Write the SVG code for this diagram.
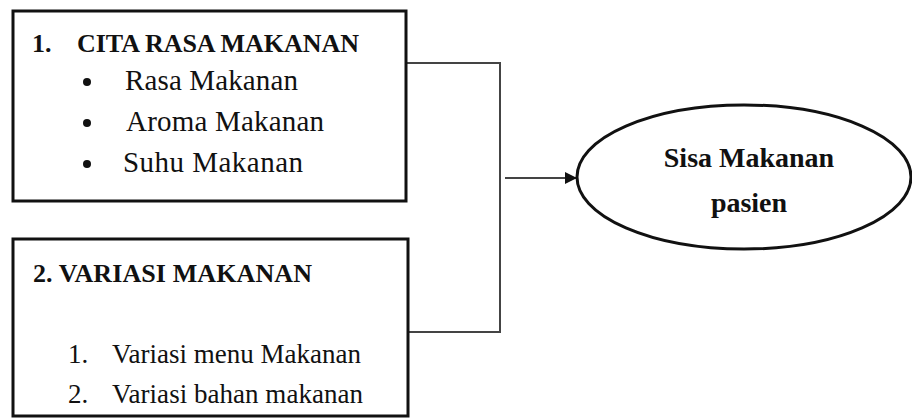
<svg xmlns="http://www.w3.org/2000/svg" width="912" height="418" viewBox="0 0 912 418">
<defs>
<style>
.box{fill:#fff;stroke:#111;stroke-width:3}
.conn{fill:none;stroke:#444;stroke-width:2}
.t{font-family:"Liberation Serif","Times New Roman",serif;fill:#111}
.b{font-weight:bold;font-size:26px}
.r{font-size:27px}
.r2{font-size:29px}
.e{font-weight:bold;font-size:28px}
</style>
<marker id="arr" viewBox="0 0 10 10" refX="10" refY="5" markerWidth="14" markerHeight="12" markerUnits="userSpaceOnUse" orient="auto">
<path d="M0,0 L10,5 L0,10 z" fill="#111"/>
</marker>
</defs>
<rect width="912" height="418" fill="#fff"/>
<g id="connectors">
<polyline class="conn" points="406,63 500,63 500,332 408,332"/>
<line class="conn" x1="505" y1="178" x2="577" y2="178" marker-end="url(#arr)"/>
</g>
<g id="node-cita-rasa">
<rect class="box" x="13" y="11" width="393" height="190"/>
<text class="t b" x="32" y="52">1.</text>
<text class="t b" x="77" y="52" textLength="282">CITA RASA MAKANAN</text>
<circle cx="87" cy="82" r="4" fill="#111"/>
<circle cx="87" cy="123" r="4" fill="#111"/>
<circle cx="87" cy="164" r="4" fill="#111"/>
<text class="t r2" x="125" y="90" textLength="173">Rasa Makanan</text>
<text class="t r2" x="126" y="131" textLength="198">Aroma Makanan</text>
<text class="t r2" x="123" y="172" textLength="180">Suhu Makanan</text>
</g>
<g id="node-variasi">
<rect class="box" x="13" y="239" width="395" height="177"/>
<text class="t b" x="33" y="282" textLength="279">2. VARIASI MAKANAN</text>
<text class="t r" x="68" y="363">1.</text>
<text class="t r" x="112" y="363" textLength="249">Variasi menu Makanan</text>
<text class="t r" x="68" y="403">2.</text>
<text class="t r" x="112" y="403" textLength="251">Variasi bahan makanan</text>
</g>
<g id="node-sisa">
<ellipse class="box" cx="744" cy="177" rx="167" ry="72"/>
<text class="t e" x="749" y="167" text-anchor="middle">Sisa Makanan</text>
<text class="t e" x="749" y="212" text-anchor="middle">pasien</text>
</g>
</svg>
